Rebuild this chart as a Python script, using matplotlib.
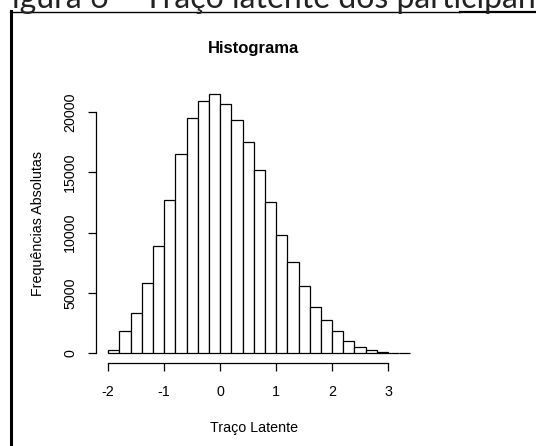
import numpy as np
import matplotlib
matplotlib.use("Agg")
from matplotlib import pyplot as plt
from matplotlib.lines import Line2D

# histogram data (bin width 0.2)
bin_start = -2.0
bin_width = 0.2
counts = [300, 1830, 3330, 5850, 8870, 12730, 16500, 19520, 20910, 21490,
          20660, 19330, 17560, 15170, 12510, 9850, 7570, 5600, 3860, 2720,
          1830, 980, 470, 225, 70, 15, 3]
x_ticks = [-2, -1, 0, 1, 2, 3]
y_ticks = [0, 5000, 10000, 15000, 20000]

title = "Histograma"
x_label = "Traço Latente"
y_label = "Frequências Absolutas"
caption = "Figura 6 – Traço latente dos participantes"

plt.rcParams['font.family'] = ['Liberation Sans', 'DejaVu Sans']

fig = plt.figure(figsize=(5.36, 4.46), dpi=100)
fig.patch.set_facecolor('white')

ax = fig.add_axes([0.18, 0.185, 0.5868, 0.6267])
edges = bin_start + bin_width * np.arange(len(counts))
ax.bar(edges, counts, width=bin_width, align='edge', facecolor='white',
       edgecolor='black', linewidth=0.9)

ax.set_xlim(-2.21, 3.41)
ax.set_ylim(-860, 22350)

for side in ['top', 'right']:
    ax.spines[side].set_visible(False)
ax.spines['left'].set_bounds(0, 20000)
ax.spines['bottom'].set_bounds(-2, 3)
ax.spines['left'].set_linewidth(0.9)
ax.spines['bottom'].set_linewidth(0.9)

ax.set_xticks(x_ticks)
ax.set_xticklabels([str(v) for v in x_ticks])
ax.set_yticks(y_ticks)
ax.set_yticklabels([str(v) for v in y_ticks], rotation=90, va='center')
ax.tick_params(axis='both', direction='out', length=5.5, width=0.9,
               labelsize=10.3, colors='black')
ax.tick_params(axis='x', pad=10)
ax.tick_params(axis='y', pad=8.5)

ax.set_title(title, fontsize=12, fontweight='bold', pad=22.5)
ax.set_xlabel(x_label, fontsize=10.3)
ax.xaxis.set_label_coords(0.5, -0.23)
ax.xaxis.label.set_va('center')
ax.set_ylabel(y_label, fontsize=10.3)
ax.yaxis.set_label_coords(-0.187, 0.5)
ax.yaxis.label.set_va('center')

# document frame and cut-off caption above it
fig.text(-6 / 536, 1.0 - 8 / 446, caption, fontsize=23, family=['Lato', 'DejaVu Sans'],
         ha='left', va='baseline', color='#222222')
fig.add_artist(Line2D([10 / 536, 460 / 536], [1 - 11.7 / 446] * 2,
                      transform=fig.transFigure, color='black', lw=1.0))
fig.add_artist(Line2D([460 / 536, 1.0], [1 - 11.7 / 446] * 2,
                      transform=fig.transFigure, color='black', lw=1.6))
fig.add_artist(Line2D([10.5 / 536] * 2, [0, 1 - 11.2 / 446],
                      transform=fig.transFigure, color='black', lw=2.2))

fig.savefig("out.png", dpi=100)
